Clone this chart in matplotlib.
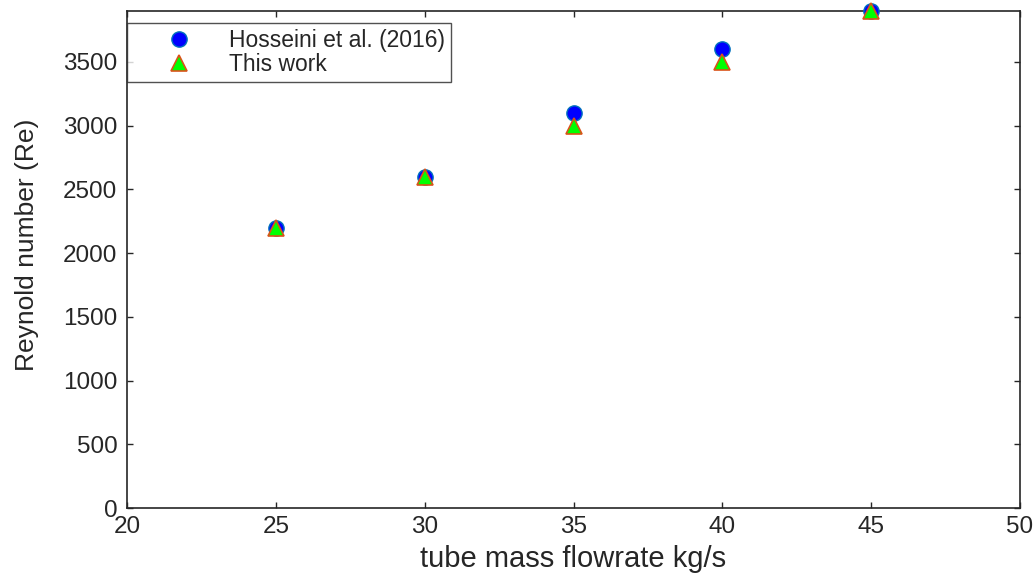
import matplotlib
matplotlib.use('Agg')
import matplotlib.pyplot as plt

flow = [25, 30, 35, 40, 45]
re_hosseini = [2200, 2600, 3100, 3600, 3900]
re_this_work = [2200, 2600, 3000, 3500, 3900]

plt.rcParams['font.family'] = ['Liberation Sans', 'DejaVu Sans']
txt = '#262626'

fig = plt.figure(figsize=(10.34, 5.76), dpi=100)
ax = fig.add_axes([0.1228, 0.118, 0.8637, 0.863])

ax.plot(flow, re_hosseini, linestyle='none', marker='o', markersize=11,
        markerfacecolor='#0000ff', markeredgecolor='#0072bd', markeredgewidth=1,
        label='Hosseini et al. (2016)', clip_on=False, zorder=3)
ax.plot(flow, re_this_work, linestyle='none', marker='^', markersize=11,
        markerfacecolor='#00ff00', markeredgecolor='#d95319', markeredgewidth=1.2,
        label='This work', clip_on=False, zorder=4)

ax.set_xlim(20, 50)
ax.set_ylim(0, 3900)
ax.set_xticks([20, 25, 30, 35, 40, 45, 50])
ax.set_yticks([0, 500, 1000, 1500, 2000, 2500, 3000, 3500])
ax.tick_params(direction='in', top=True, right=True, length=4, width=1,
               labelsize=17.5, labelcolor=txt, color='#262626')
ax.tick_params(axis='y', pad=7)
ax.tick_params(axis='x', pad=6)
for s in ax.spines.values():
    s.set_color('#262626')
    s.set_linewidth(1.2)

ax.set_xlabel('tube mass flowrate kg/s', fontsize=21, color=txt, labelpad=5)
ax.set_ylabel('Reynold number (Re)', fontsize=19, color=txt)
ax.yaxis.set_label_coords(-0.098, 0.53)

leg = ax.legend(loc='upper left', bbox_to_anchor=(0.0, 0.976), fontsize=16.5,
                frameon=True, fancybox=False, borderaxespad=0,
                handletextpad=0.2, borderpad=0.25, labelspacing=0.08,
                handlelength=4.0)
leg.get_frame().set_edgecolor('#262626')
leg.get_frame().set_linewidth(1)
for t in leg.get_texts():
    t.set_color(txt)

fig.savefig('out.png', dpi=100)
